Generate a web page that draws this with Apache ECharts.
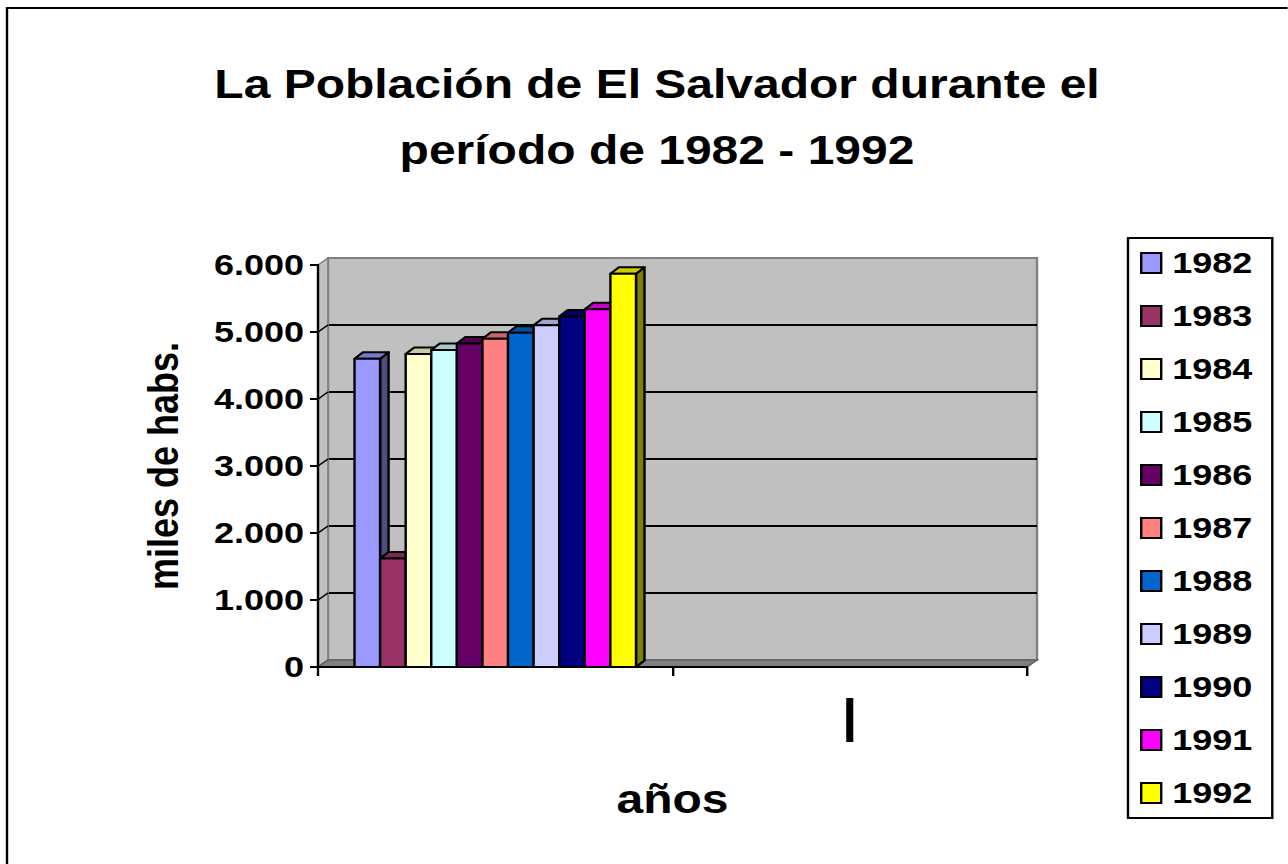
<!DOCTYPE html>
<html>
<head>
<meta charset="utf-8">
<script src="https://cdn.jsdelivr.net/npm/echarts@6/dist/echarts.min.js"></script>
<style>
html,body{margin:0;padding:0;background:#fff;overflow:hidden;width:1288px;height:864px}
#wrap{width:1288px;height:864px;overflow:hidden;position:relative}
#c{position:absolute;left:0;top:0;height:864px;transform-origin:0 0}
</style>
</head>
<body>
<div id="wrap"><div id="c"></div></div>
<script>
// ---- data ----
const YEARS = ['1982','1983','1984','1985','1986','1987','1988','1989','1990','1991','1992'];
const POPULATION = [4600, 1620, 4670, 4730, 4830, 4900, 4990, 5100, 5230, 5340, 5870];
const CATEGORIES = ['', '|'];
const Y_TICK_LABELS = ['0','1.000','2.000','3.000','4.000','5.000','6.000'];
const Y_MAX = 6000, Y_STEP = 1000;

// ---- style / layout ----
const COLORS = ['#9999FF','#993366','#FFFFCC','#CCFFFF','#660066','#FF8080','#0066CC','#CCCCFF','#000080','#FF00FF','#FFFF00'];
const S = 1.2;                 // horizontal stretch of the whole picture
const X = v => v / S;
const W = 1288 / S;
const FONT = '"Liberation Sans", Arial, Helvetica, sans-serif';
const GL = X(318), GT = 265, GW = X(709), GH = 402;
const WDX = X(10), WDY = -7;   // wall depth
const BDX = X(8.5), BDY = -6.5; // bar depth
const GROUP = 0.794;

document.getElementById('c').style.width = W + 'px';
document.getElementById('c').style.transform = 'scaleX(' + S + ')';

function shade(hex, f) {
  const n = parseInt(hex.slice(1), 16);
  const r = Math.round(((n >> 16) & 255) * f), g = Math.round(((n >> 8) & 255) * f), b = Math.round((n & 255) * f);
  return 'rgb(' + r + ',' + g + ',' + b + ')';
}

function makeRender(i) {
  return function (params, api) {
    const base = api.coord([api.value(0), 0]);
    const top = api.coord([api.value(0), api.value(1)]);
    const band = api.size([1, 0])[0];
    const bw = band * GROUP / YEARS.length;
    const x0 = base[0] - band * GROUP / 2 + i * bw;
    const x1 = x0 + bw, yt = top[1], yb = base[1];
    const col = COLORS[i];
    const st = { stroke: '#000', lineWidth: 2, lineJoin: 'round' };
    return {
      type: 'group',
      children: [
        { type: 'polygon', shape: { points: [[x1, yt], [x1 + BDX, yt + BDY], [x1 + BDX, yb + BDY], [x1, yb]] },
          style: Object.assign({ fill: shade(col, 0.5) }, st) },
        { type: 'polygon', shape: { points: [[x0, yt], [x1, yt], [x1 + BDX, yt + BDY], [x0 + BDX, yt + BDY]] },
          style: Object.assign({ fill: shade(col, 0.8) }, st) },
        { type: 'rect', shape: { x: x0, y: yt, width: bw, height: yb - yt },
          style: Object.assign({ fill: col }, st) }
      ]
    };
  };
}

const chart = echarts.init(document.getElementById('c'), null, { renderer: 'svg' });

const option = {
  animation: false,
  backgroundColor: '#fff',
  color: COLORS,
  title: {
    text: 'La Población de El Salvador durante el\nperíodo de 1982 - 1992',
    left: X(651), top: 46, textAlign: 'center',
    textStyle: { fontFamily: FONT, fontSize: 40, fontWeight: 'bold', color: '#000', lineHeight: 66 }
  },
  legend: {
    data: YEARS, orient: 'vertical', left: X(1128), top: 238,
    icon: 'rect', itemWidth: X(20), itemHeight: 20, itemGap: 23,
    padding: [10, X(20), 10, X(12)],
    borderColor: '#000', borderWidth: 2, backgroundColor: '#fff',
    selectedMode: false,
    itemStyle: { borderColor: '#000', borderWidth: 2 },
    textStyle: { fontFamily: FONT, fontSize: 30, fontWeight: 'bold', color: '#000', padding: [0, 0, 0, X(5)] }
  },
  grid: [
    { left: GL, top: GT, width: GW, height: GH, show: false },
    { left: GL + WDX, top: GT + WDY, width: GW, height: GH, show: true,
      backgroundColor: '#C0C0C0', borderColor: '#808080', borderWidth: 2 }
  ],
  xAxis: [
    { gridIndex: 0, type: 'category', data: CATEGORIES, boundaryGap: true, z: 5,
      axisLine: { show: true, lineStyle: { color: '#000', width: 2 } },
      axisTick: { show: true, length: 9, alignWithLabel: false, lineStyle: { color: '#000', width: 2 } },
      axisLabel: { interval: 0, fontFamily: FONT, fontSize: 46, fontWeight: 'bold', color: '#000', margin: 26 },
      splitLine: { show: false },
      name: 'años', nameLocation: 'middle', nameGap: 112,
      nameTextStyle: { fontFamily: FONT, fontSize: 40, fontWeight: 'bold', color: '#000' } },
    { gridIndex: 1, type: 'category', data: CATEGORIES, show: false }
  ],
  yAxis: [
    { gridIndex: 0, type: 'value', min: 0, max: Y_MAX, interval: Y_STEP, z: 5,
      axisLine: { show: true, lineStyle: { color: '#000', width: 2 } },
      axisTick: { show: true, length: X(8), lineStyle: { color: '#000', width: 2 } },
      axisLabel: { fontFamily: FONT, fontSize: 30, fontWeight: 'bold', color: '#000', margin: X(14),
        formatter: v => Y_TICK_LABELS[Math.round(v / Y_STEP)] },
      splitLine: { show: false },
      name: 'miles de habs.', nameLocation: 'middle', nameRotate: 90, nameGap: X(134),
      nameTextStyle: { fontFamily: FONT, fontSize: 36, fontWeight: 'bold', color: '#000' } },
    { gridIndex: 1, type: 'value', min: 0, max: Y_MAX, interval: Y_STEP,
      axisLine: { show: false }, axisTick: { show: false }, axisLabel: { show: false },
      splitLine: { show: true, showMinLine: false, showMaxLine: false, lineStyle: { color: '#000', width: 2 } } }
  ],
  series: YEARS.map((y, i) => ({
    name: y, type: 'custom', xAxisIndex: 0, yAxisIndex: 0, z: 3,
    renderItem: makeRender(i), itemStyle: { color: COLORS[i] },
    encode: { x: 0, y: 1 },
    data: [[0, POPULATION[i]]]
  }))
};
chart.setOption(option);

// decorative 3D walls built from the axis scale
const GB = GT + GH, GR = GL + GW;
const decor = [
  { type: 'polygon', z: 1, shape: { points: [[GL, GT], [GL + WDX, GT + WDY], [GL + WDX, GB + WDY], [GL, GB]] },
    style: { fill: '#C0C0C0', stroke: '#808080', lineWidth: 1.5 } },
  { type: 'polygon', z: 1, shape: { points: [[GL, GB], [GR, GB], [GR + WDX, GB + WDY], [GL + WDX, GB + WDY]] },
    style: { fill: '#808080', stroke: '#606060', lineWidth: 1.5 } },
  { type: 'rect', z: 10, shape: { x: X(7), y: 8, width: W + 50, height: 900 },
    style: { fill: 'none', stroke: '#000', lineWidth: 2 } }
];
for (let v = Y_STEP; v < Y_MAX; v += Y_STEP) {
  const y = chart.convertToPixel({ yAxisIndex: 0 }, v);
  decor.push({ type: 'line', z: 1, shape: { x1: GL, y1: y, x2: GL + WDX, y2: y + WDY },
    style: { stroke: '#000', lineWidth: 1.5 } });
}
chart.setOption({ graphic: { elements: decor } });
</script>
</body>
</html>
